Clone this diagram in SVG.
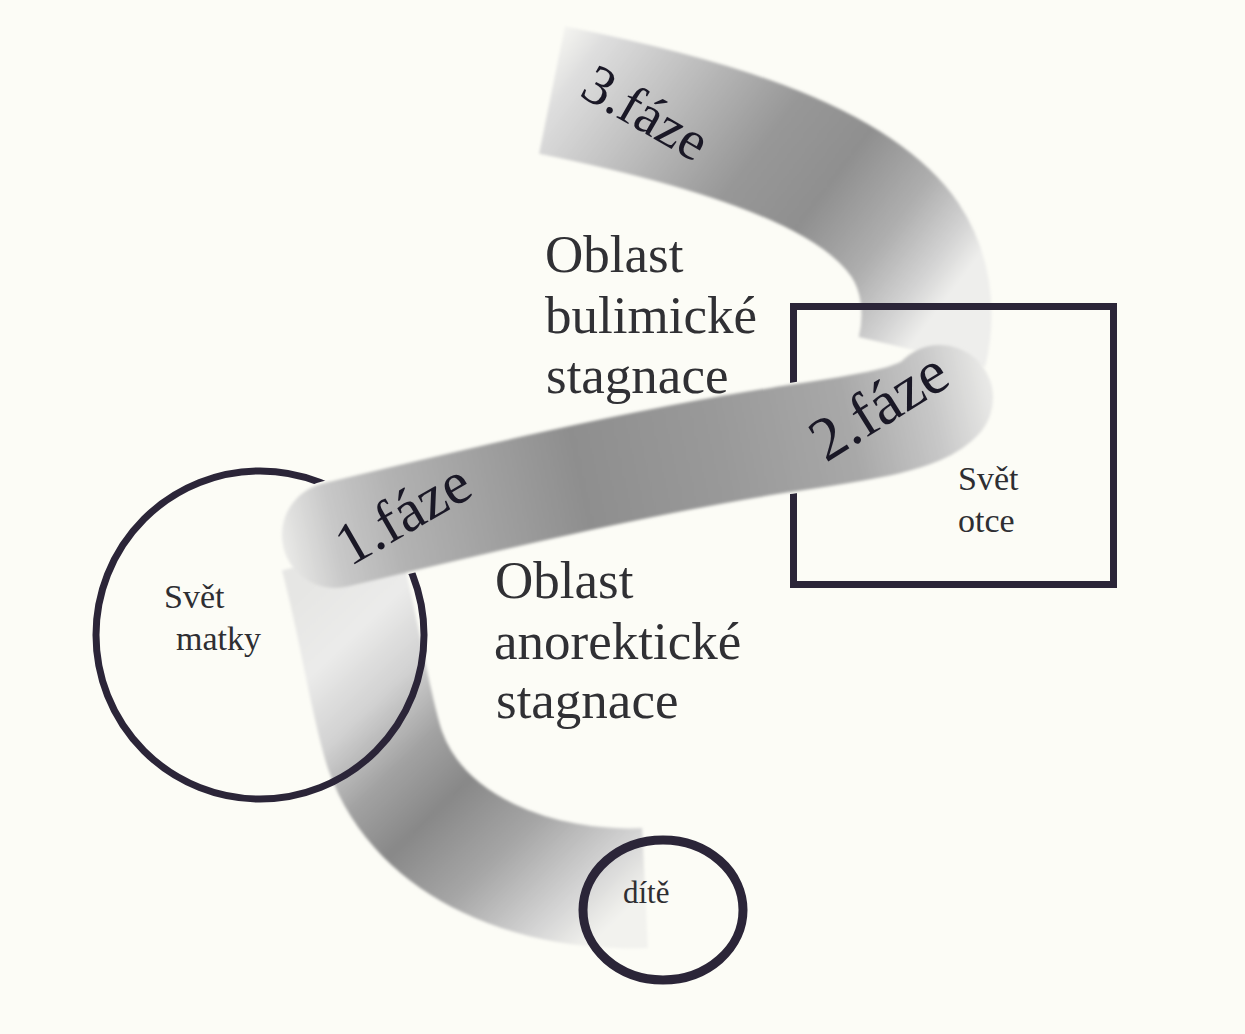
<svg xmlns="http://www.w3.org/2000/svg" xmlns:xlink="http://www.w3.org/1999/xlink" width="1245" height="1034" viewBox="0 0 1245 1034">
<style>
.region{font-family:"Liberation Serif","Times New Roman",serif;font-size:53px;fill:#303034}
.node-label{font-family:"Liberation Serif","Times New Roman",serif;font-size:34px;fill:#2e2e32}
.phase{font-family:"Liberation Serif","Times New Roman",serif;font-size:60px;fill:#1a1826}
.band{fill:none}
.outline{fill:none;stroke:#2b2538}
</style>
<defs>
<path id="band2path" d="M 335 535 C 480 500, 640 462, 780 440 C 860 428, 920 420, 940 398"/>
<linearGradient id="g1" gradientUnits="userSpaceOnUse" x1="650" y1="888" x2="340" y2="560">
<stop offset="0" stop-color="#f2f2ee"/>
<stop offset="0.1" stop-color="#d6d6d6"/>
<stop offset="0.28" stop-color="#a6a6a6"/>
<stop offset="0.45" stop-color="#888888"/>
<stop offset="0.58" stop-color="#a2a2a2"/>
<stop offset="0.72" stop-color="#d2d2d2"/>
<stop offset="0.86" stop-color="#ebebea"/>
<stop offset="1" stop-color="#e6e6e4"/>
</linearGradient>
<linearGradient id="g2" gradientUnits="userSpaceOnUse" x1="285" y1="545" x2="990" y2="395">
<stop offset="0" stop-color="#e8e8e6"/>
<stop offset="0.07" stop-color="#c8c8c8"/>
<stop offset="0.16" stop-color="#b2b2b2"/>
<stop offset="0.42" stop-color="#8e8e8e"/>
<stop offset="0.62" stop-color="#999999"/>
<stop offset="0.8" stop-color="#a8a8a8"/>
<stop offset="0.92" stop-color="#c8c8c8"/>
<stop offset="1" stop-color="#e8e8e6"/>
</linearGradient>
<linearGradient id="g3" gradientUnits="userSpaceOnUse" x1="520" y1="70" x2="900" y2="360">
<stop offset="0" stop-color="#fafaf5"/>
<stop offset="0.1" stop-color="#dedede"/>
<stop offset="0.25" stop-color="#c4c4c4"/>
<stop offset="0.5" stop-color="#979797"/>
<stop offset="0.66" stop-color="#8f8f8f"/>
<stop offset="0.82" stop-color="#aeaeae"/>
<stop offset="0.93" stop-color="#d2d2d2"/>
<stop offset="1" stop-color="#eeeeec"/>
</linearGradient>
<filter id="soft" filterUnits="userSpaceOnUse" x="0" y="0" width="1245" height="1034">
<feGaussianBlur stdDeviation="1.5"/>
</filter>
<mask id="cutBand2" maskUnits="userSpaceOnUse" x="0" y="0" width="1245" height="1034">
<rect x="0" y="0" width="1245" height="1034" fill="white"/>
<use xlink:href="#band2path" fill="none" stroke="black" stroke-width="110" stroke-linecap="round"/>
</mask>
</defs>
<rect x="0" y="0" width="1245" height="1034" fill="#fcfcf6"/>
<g id="connectors">
<path class="band" filter="url(#soft)" d="M 645 888 C 540 893, 420 850, 385 750 C 370 705, 360 630, 340 555" stroke="url(#g1)" stroke-width="120"/>
<path class="band" filter="url(#soft)" d="M 552 90 C 690 118, 850 160, 905 240 C 925 270, 932 310, 922 352" stroke="url(#g3)" stroke-width="130"/>
<use xlink:href="#band2path" class="band" filter="url(#soft)" stroke="url(#g2)" stroke-width="106" stroke-linecap="round"/>
<text class="phase" x="350" y="567" transform="rotate(-30 350 567)">1.fáze</text>
<text class="phase" x="826" y="463" transform="rotate(-32 826 463)" style="font-size:62px">2.fáze</text>
<text class="phase" x="578" y="95" transform="rotate(30 578 95)" style="font-size:56px">3.fáze</text>
</g>
<g id="node-matka">
<circle class="outline" cx="260" cy="635" r="164" stroke-width="7" mask="url(#cutBand2)"/>
<text class="node-label" x="164" y="608">Svět</text>
<text class="node-label" x="176" y="650">matky</text>
</g>
<g id="node-otec">
<rect class="outline" x="793.5" y="306.5" width="320" height="278" stroke-width="7" mask="url(#cutBand2)"/>
<text class="node-label" x="958" y="490">Svět</text>
<text class="node-label" x="958" y="532">otce</text>
</g>
<g id="node-dite">
<ellipse class="outline" cx="663" cy="910" rx="80" ry="70" stroke-width="9"/>
<text class="node-label" x="623" y="903" style="font-size:31px">dítě</text>
</g>
<g id="region-bulimic">
<text class="region" x="545" y="272">Oblast</text>
<text class="region" x="545" y="333">bulimické</text>
<text class="region" x="546" y="393">stagnace</text>
</g>
<g id="region-anorectic">
<text class="region" x="495" y="598">Oblast</text>
<text class="region" x="494" y="659">anorektické</text>
<text class="region" x="496" y="718">stagnace</text>
</g>
</svg>
